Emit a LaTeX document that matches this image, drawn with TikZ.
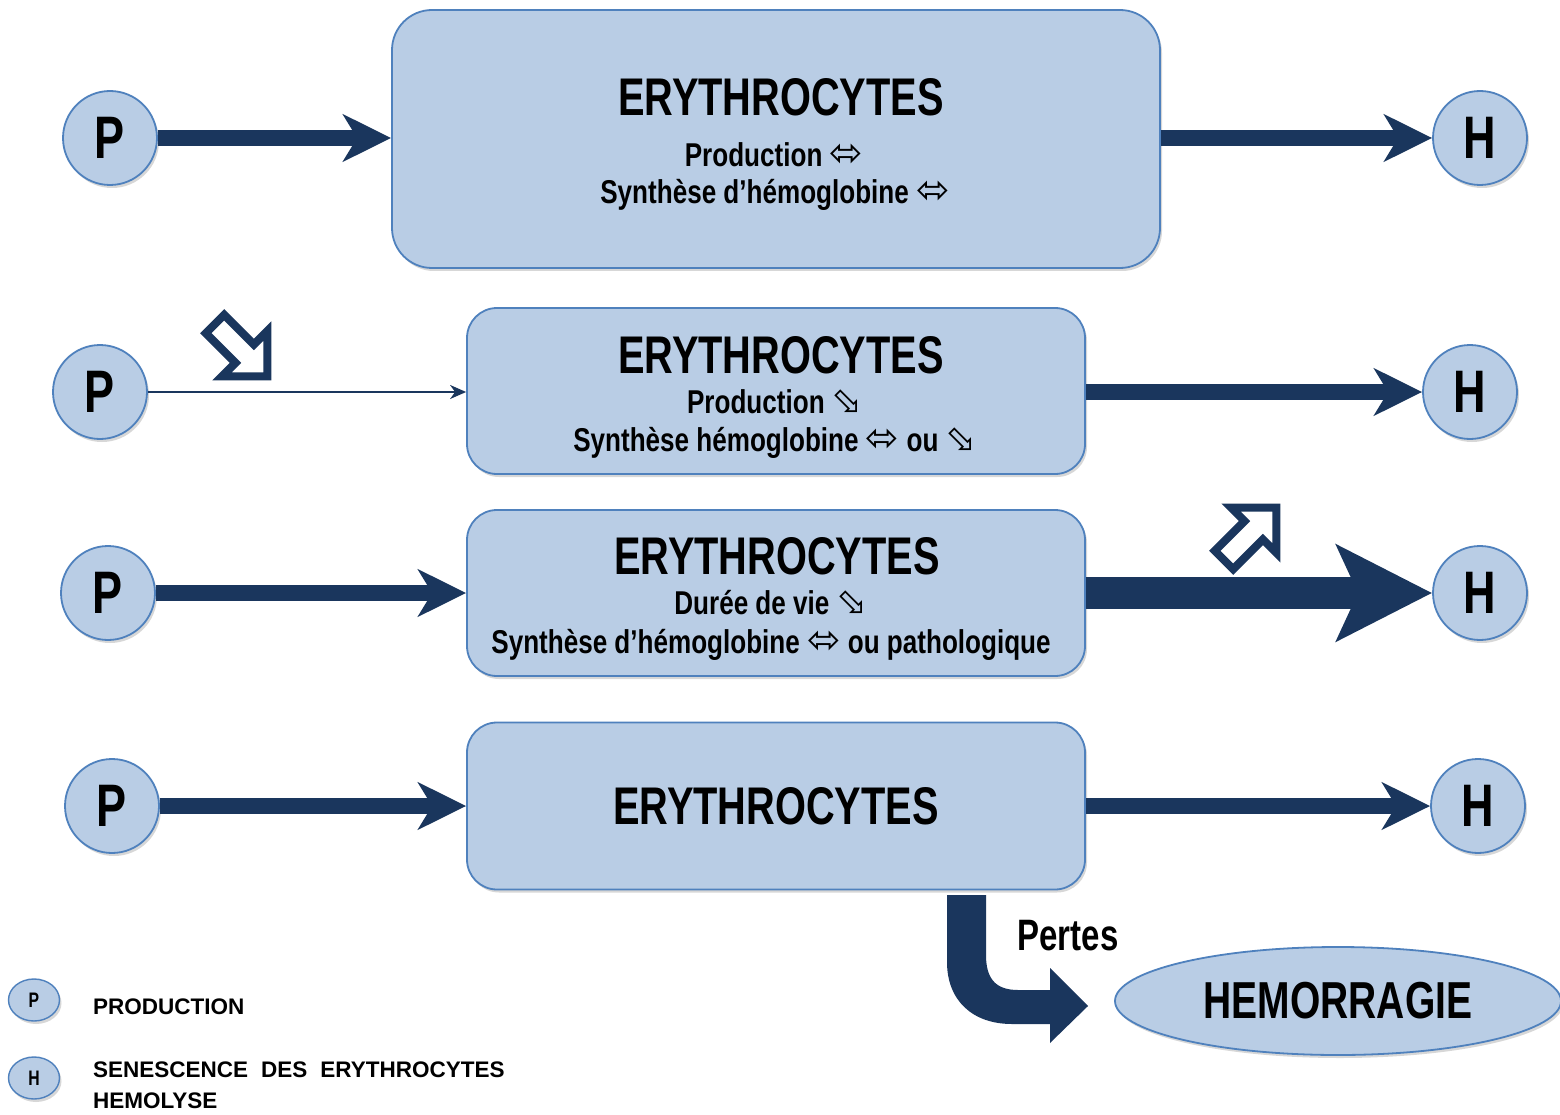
\documentclass[tikz,border=0pt]{standalone}
\usepackage{fontspec}
\setmainfont{Liberation Sans}
\newfontfamily\narrowsans{Liberation Sans}[FakeStretch=0.75]
\newfontfamily\linesans{Liberation Sans}[FakeStretch=0.79]
\newfontfamily\symbfont{DejaVu Sans}
\usetikzlibrary{arrows.meta,shapes.geometric,shadows}

\definecolor{arrownavy}{HTML}{1A365D}
\definecolor{boxfill}{HTML}{B9CDE5}
\definecolor{bordblue}{HTML}{4F81BD}

% inline white-arrow symbols
\newcommand\symLR{{\mdseries\symbfont\fontsize{40}{40}\selectfont ⬄}}
\newcommand\symSE{{\mdseries\symbfont\fontsize{37}{37}\selectfont ⬂}}

\tikzset{
  softshadow/.style={drop shadow={shadow xshift=2pt, shadow yshift=-3pt, opacity=0.22, fill=black!70}},
  pnode/.style={circle, draw=bordblue, line width=1.8pt, fill=boxfill, minimum size=94pt,
    inner sep=0pt, font=\narrowsans\bfseries\fontsize{60}{60}\selectfont, softshadow},
  legcirc/.style={ellipse, draw=bordblue, line width=1.4pt, fill=boxfill, minimum width=51pt,
    minimum height=42pt, inner sep=0pt, font=\narrowsans\bfseries\fontsize{21}{21}\selectfont, softshadow},
  erybox/.style={draw=bordblue, line width=1.8pt, fill=boxfill, rounded corners=30pt,
    inner sep=0pt, softshadow},
  titletext/.style={inner sep=0pt, font=\narrowsans\bfseries\fontsize{53}{56}\selectfont},
  linetext/.style={inner sep=0pt, anchor=base, font=\linesans\bfseries\fontsize{33}{36}\selectfont},
  legtext/.style={inner sep=0pt, anchor=base west, font=\bfseries\fontsize{22.5}{24}\selectfont},
  flow/.style={draw=arrownavy, line width=16pt, -{Stealth[length=48pt,width=47pt,inset=14pt]}},
  thinflow/.style={draw=arrownavy, line width=1.5pt, -{Stealth[length=16pt,width=14pt,inset=5pt]}},
  bigflow/.style={draw=arrownavy, line width=32pt, -{Stealth[length=95pt,width=95pt,inset=21pt]}},
  hollowarrow/.pic={\draw[draw=arrownavy, line width=8pt, fill=white, line join=miter]
    (0,13) -- (42,13) -- (42,32) -- (74,0) -- (42,-32) -- (42,-13) -- (0,-13) -- cycle;}
}

\begin{document}
\begin{tikzpicture}[x=1pt, y=-1pt]
\path[use as bounding box, clip] (0,0) rectangle (1560,1115);
\fill[white] (0,0) rectangle (1560,1115);

% ---- first row: normal state
\node[erybox, minimum width=768pt, minimum height=258pt, rounded corners=40pt] (b1) at (776,139) {};
\node[titletext] (t1) at (781,97) {ERYTHROCYTES};
\node[linetext] (t1a) at (774,167) {Production \symLR};
\node[linetext] (t1b) at (775,204) {Synthèse d’hémoglobine \symLR};
\node[pnode] (p1) at (110,138) {P};
\node[pnode] (h1) at (1480,138) {H};
\draw[flow] (p1) -- (p1 -| b1.west);
\draw[flow] (b1.east |- h1) -- (h1);

% ---- second row: reduced production
\node[erybox, minimum width=618pt, minimum height=166pt] (b2) at (776,391) {};
\node[titletext] (t2) at (781,355) {ERYTHROCYTES};
\node[linetext] (t2a) at (775,413) {Production \symSE};
\node[linetext] (t2b) at (775,451) {Synthèse hémoglobine \symLR{} ou \symSE};
\node[pnode] (p2) at (100,392) {P};
\node[pnode] (h2) at (1470,392) {H};
\draw[thinflow] (p2) -- (p2 -| b2.west);
\draw[flow] (b2.east |- h2) -- (h2);
\pic[rotate=-45] at (215,324) {hollowarrow};

% ---- third row: shortened life span
\node[erybox, minimum width=618pt, minimum height=166pt] (b3) at (776,593) {};
\node[titletext] (t3) at (777,556) {ERYTHROCYTES};
\node[linetext] (t3a) at (771,614) {Durée de vie \symSE};
\node[linetext] (t3b) at (771,653) {Synthèse d’hémoglobine \symLR{} ou pathologique};
\node[pnode] (p3) at (108,593) {P};
\node[pnode] (h3) at (1480,593) {H};
\draw[flow] (p3) -- (p3 -| b3.west);
\draw[bigflow] (b3.east |- h3) -- (h3);
\pic[rotate=45] at (1224,560) {hollowarrow};

% ---- fourth row: losses
\node[erybox, minimum width=618pt, minimum height=167pt, titletext] (b4) at (776,806) {ERYTHROCYTES};
\node[pnode] (p4) at (112,806) {P};
\node[pnode] (h4) at (1478,806) {H};
\draw[flow] (p4) -- (p4 -| b4.west);
\draw[flow] (b4.east |- h4) -- (h4);

% bent block arrow towards the haemorrhage
\fill[arrownavy] (947,895) -- (986,895) -- (986,955)
  .. controls (986,978) and (995,990) .. (1018,990) -- (1050,990) -- (1050,968)
  -- (1088,1006) -- (1050,1043) -- (1050,1024) -- (1012,1024)
  .. controls (972,1024) and (947,1000) .. (947,962) -- cycle;
\node[linetext, font=\narrowsans\bfseries\fontsize{44}{46}\selectfont] (pertes) at (1068,950) {Pertes};
\node[ellipse, draw=bordblue, fill=boxfill, line width=1.8pt, minimum width=446pt,
  minimum height=108pt, inner sep=0pt, softshadow,
  font=\narrowsans\bfseries\fontsize{52}{54}\selectfont] (hem) at (1338,1001) {HEMORRAGIE};

% ---- legend
\node[legcirc] (lp) at (34,1000) {P};
\node[legtext] (lpt) at (93,1014) {PRODUCTION};
\node[legcirc] (lh) at (34,1078) {H};
\node[legtext] (lht) at (93,1077) {SENESCENCE\hspace{13pt}DES\hspace{13pt}ERYTHROCYTES};
\node[legtext] (lht2) at (93,1108) {HEMOLYSE};
\end{tikzpicture}
\end{document}
